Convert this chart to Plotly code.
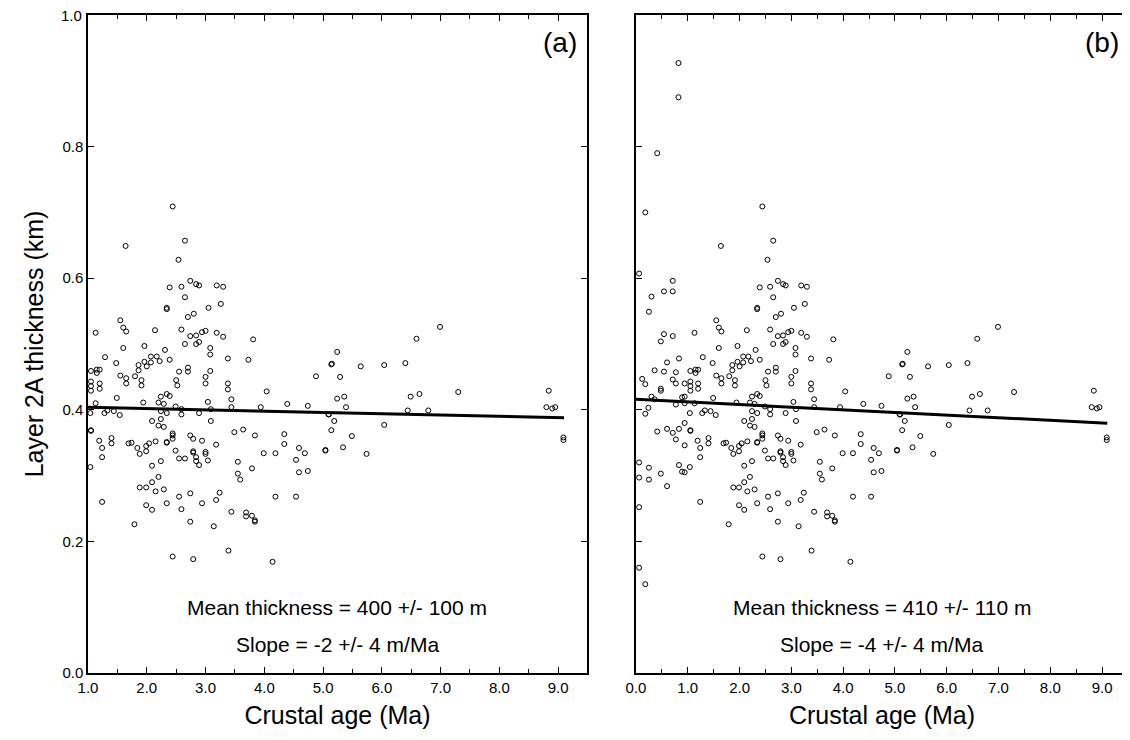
import plotly.graph_objects as go

# points with crustal age >= 1 Ma (shared by both panels)
age_a = [2.44, 2.65, 1.64, 2.54, 2.39, 2.59, 2.74, 2.84, 2.89, 3.19, 3.30, 2.65, 2.34, 2.34, 3.05, 3.26,
         2.80, 2.70, 1.55, 1.60, 1.65, 1.13, 2.14, 2.59, 2.74, 2.84, 2.94, 3.00, 3.19, 3.30, 3.81, 2.84,
         2.89, 2.65, 1.60, 1.96, 2.31, 3.08, 3.08, 1.29, 2.07, 2.17, 2.39, 3.38, 3.73, 1.48, 1.96, 2.07,
         2.22, 1.86, 2.00, 1.05, 1.15, 1.20, 1.15, 1.86, 2.70, 2.70, 2.55, 3.08, 1.55, 1.65, 1.80, 1.91,
         2.50, 3.00, 4.88, 5.15, 1.05, 1.20, 3.38,
         1.05, 1.05, 1.20, 1.65, 1.91, 2.52, 3.00, 3.38, 1.49, 1.94, 2.20, 2.29, 2.24, 2.34, 2.39, 3.04,
         3.44, 4.04, 4.39, 4.74, 1.13, 1.04, 1.28, 1.33, 1.44, 1.54, 2.24, 2.34, 2.49, 2.59, 2.59, 2.89,
         3.09, 3.44, 3.94, 5.10, 2.09, 2.20, 2.29, 2.24, 3.09, 1.05, 1.05,
         1.19, 1.24, 1.24, 1.40, 1.40, 1.69, 1.74, 1.84, 1.88, 1.99, 1.99, 2.04, 2.15, 2.09, 2.24, 2.20,
         2.09, 2.15, 2.29, 1.88, 1.99, 1.99, 2.09, 2.34, 1.79, 1.24, 1.04,
         2.44, 2.44, 2.34, 2.34, 2.44, 2.49, 2.55, 2.65, 2.74, 2.79, 2.94, 3.18, 2.79, 2.79, 2.84, 2.84,
         2.89, 3.00, 3.00, 3.04, 3.49, 3.64, 3.84, 4.34, 4.34, 4.59, 4.69, 4.54, 4.59, 4.74, 5.04, 4.19,
         3.99, 3.55, 3.55, 3.59, 3.79, 3.24, 3.18, 2.94, 2.74, 2.55, 2.59, 2.74, 3.14, 3.44, 3.69, 3.69,
         3.79, 3.84, 3.84, 4.19, 4.54, 3.39, 2.44, 2.79, 4.14,
         6.99, 6.59, 5.24, 5.14, 5.64, 6.04, 6.40, 5.29, 5.24, 5.36, 5.39, 6.49, 6.64, 7.30, 6.44, 6.79,
         8.84, 8.80, 8.90, 8.95, 5.09, 5.19, 5.14, 6.04, 5.49, 5.04, 5.34, 5.74, 9.09, 9.09]
thick_a = [0.709, 0.657, 0.649, 0.628, 0.586, 0.587, 0.596, 0.591, 0.589, 0.589, 0.587, 0.571, 0.555, 0.553, 0.555, 0.561,
           0.546, 0.541, 0.536, 0.525, 0.519, 0.517, 0.521, 0.522, 0.512, 0.513, 0.518, 0.520, 0.517, 0.511, 0.507, 0.500,
           0.503, 0.500, 0.494, 0.497, 0.491, 0.494, 0.484, 0.480, 0.481, 0.481, 0.476, 0.478, 0.476, 0.471, 0.473, 0.472,
           0.474, 0.468, 0.466, 0.459, 0.461, 0.461, 0.456, 0.460, 0.464, 0.458, 0.458, 0.459, 0.452, 0.448, 0.451, 0.445,
           0.445, 0.450, 0.451, 0.470, 0.443, 0.440, 0.440,
           0.436, 0.429, 0.432, 0.440, 0.437, 0.437, 0.440, 0.431, 0.418, 0.411, 0.411, 0.409, 0.420, 0.424, 0.421, 0.412,
           0.416, 0.428, 0.409, 0.406, 0.410, 0.395, 0.395, 0.399, 0.398, 0.392, 0.398, 0.395, 0.405, 0.401, 0.393, 0.395,
           0.401, 0.404, 0.404, 0.393, 0.383, 0.376, 0.374, 0.386, 0.383, 0.369, 0.368,
           0.353, 0.342, 0.328, 0.357, 0.349, 0.349, 0.350, 0.342, 0.333, 0.337, 0.345, 0.349, 0.352, 0.315, 0.322, 0.298,
           0.290, 0.276, 0.279, 0.282, 0.282, 0.255, 0.248, 0.258, 0.226, 0.260, 0.313,
           0.364, 0.361, 0.351, 0.350, 0.356, 0.338, 0.326, 0.326, 0.361, 0.356, 0.353, 0.347, 0.337, 0.335, 0.328, 0.322,
           0.316, 0.336, 0.333, 0.323, 0.366, 0.370, 0.361, 0.363, 0.348, 0.342, 0.334, 0.324, 0.305, 0.307, 0.338, 0.334,
           0.334, 0.321, 0.303, 0.294, 0.311, 0.274, 0.263, 0.258, 0.273, 0.268, 0.249, 0.230, 0.223, 0.245, 0.244, 0.238,
           0.239, 0.232, 0.230, 0.268, 0.268, 0.186, 0.177, 0.173, 0.169,
           0.526, 0.508, 0.488, 0.469, 0.466, 0.468, 0.471, 0.450, 0.417, 0.420, 0.404, 0.420, 0.424, 0.427, 0.399, 0.399,
           0.429, 0.404, 0.402, 0.404, 0.393, 0.383, 0.369, 0.377, 0.360, 0.339, 0.343, 0.333, 0.358, 0.354]

# extra points younger than 1 Ma (panel b only)
age_young = [0.82, 0.82, 0.41, 0.18, 0.06, 0.30, 0.25, 0.54, 0.71, 0.71, 0.48, 0.54, 0.71, 0.60, 0.36, 0.54,
             0.77, 0.83, 0.12, 0.18, 0.48, 0.48, 0.71, 0.77, 0.94, 0.30, 0.36, 0.89, 0.24, 0.77, 0.94, 0.94,
             0.18, 0.41, 0.60, 0.71, 0.83, 0.94, 0.77, 0.94, 0.06, 0.25, 0.06, 0.25, 0.48, 0.60, 0.83, 0.89,
             0.94, 0.06, 0.06, 0.18]
thick_young = [0.927, 0.875, 0.790, 0.700, 0.607, 0.572, 0.549, 0.580, 0.580, 0.596, 0.504, 0.515, 0.512, 0.472, 0.460, 0.458,
               0.457, 0.478, 0.447, 0.439, 0.429, 0.432, 0.446, 0.440, 0.440, 0.420, 0.416, 0.419, 0.403, 0.408, 0.420, 0.410,
               0.394, 0.367, 0.371, 0.365, 0.371, 0.380, 0.355, 0.346, 0.320, 0.312, 0.297, 0.294, 0.303, 0.284, 0.316, 0.306,
               0.305, 0.252, 0.160, 0.135]

# fitted lines (km, km/Ma)
fit_a = dict(x=[1.0, 9.1], intercept=0.406, slope=-0.002)
fit_b = dict(x=[0.0, 9.1], intercept=0.416, slope=-0.004)

labels_a = ["Mean thickness = 400 +/- 100 m", "Slope = -2 +/- 4 m/Ma"]
labels_b = ["Mean thickness = 410 +/- 110 m", "Slope = -4 +/- 4 m/Ma"]

FONT = "Liberation Sans, Arial, sans-serif"
marker = dict(symbol="circle-open", size=5, color="black", line=dict(width=1, color="black"))

fig = go.Figure()
fig.add_trace(go.Scatter(x=age_a, y=thick_a, mode="markers", marker=marker, xaxis="x", yaxis="y"))
fig.add_trace(go.Scatter(x=age_a + age_young, y=thick_a + thick_young, mode="markers", marker=marker,
                         xaxis="x2", yaxis="y2"))
for fit, xa, ya in [(fit_a, "x", "y"), (fit_b, "x2", "y2")]:
    ys = [fit["intercept"] + fit["slope"] * x for x in fit["x"]]
    fig.add_trace(go.Scatter(x=fit["x"], y=ys, mode="lines", line=dict(color="black", width=3),
                             xaxis=xa, yaxis=ya))

axis_common = dict(showline=True, linecolor="black", linewidth=1.5, mirror="ticks", ticks="inside",
                   ticklen=6, tickwidth=1.2, tickcolor="black", showgrid=False, zeroline=False,
                   tickfont=dict(family=FONT, size=15, color="black"))
xcommon = dict(axis_common, dtick=1, tickformat=".1f",
               minor=dict(dtick=0.5, ticks="inside", ticklen=4, tickcolor="black"),
               title=dict(text="Crustal age (Ma)", font=dict(family=FONT, size=25, color="black"), standoff=12))

# page body has an 8px margin, so the figure is sized to fit inside the window
fig.update_layout(
    width=1122, height=732, plot_bgcolor="white", paper_bgcolor="white", showlegend=False,
    margin=dict(l=0, r=0, t=7, b=67),
    xaxis=dict(xcommon, domain=[0.0713, 0.5160], range=[1.0, 9.49], tickvals=[1, 2, 3, 4, 5, 6, 7, 8, 9]),
    xaxis2=dict(xcommon, domain=[0.5597, 0.9982], range=[0.0, 9.5], tickvals=[0, 1, 2, 3, 4, 5, 6, 7, 8, 9]),
    yaxis=dict(axis_common, range=[0, 1.0], dtick=0.2, tickformat=".1f",
               title=dict(text="Layer 2A thickness (km)", font=dict(family=FONT, size=25, color="black"), standoff=12)),
    yaxis2=dict(axis_common, range=[0, 1.0], dtick=0.2, showticklabels=False, anchor="x2"),
)
fig.update_xaxes(automargin=False)
fig.update_yaxes(automargin=False)

# top tick label gets dropped at the paper edge, so place it by hand
fig.add_annotation(text="1.0", xref="x domain", yref="y", x=0, y=1.0, xanchor="right", xshift=-4,
                   showarrow=False, font=dict(family=FONT, size=15, color="black"))

for xr, yr, tag, labels in [("x", "y", "(a)", labels_a), ("x2", "y2", "(b)", labels_b)]:
    fig.add_annotation(text=tag, xref=xr + " domain", yref=yr + " domain", x=0.985, y=0.985,
                       xanchor="right", yanchor="top", showarrow=False,
                       font=dict(family=FONT, size=28, color="black"))
    for i, t in enumerate(labels):
        fig.add_annotation(text=t, xref=xr + " domain", yref=yr, x=0.5, y=[0.099, 0.043][i],
                           showarrow=False, font=dict(family=FONT, size=21, color="black"))

fig.write_html("out.html")
